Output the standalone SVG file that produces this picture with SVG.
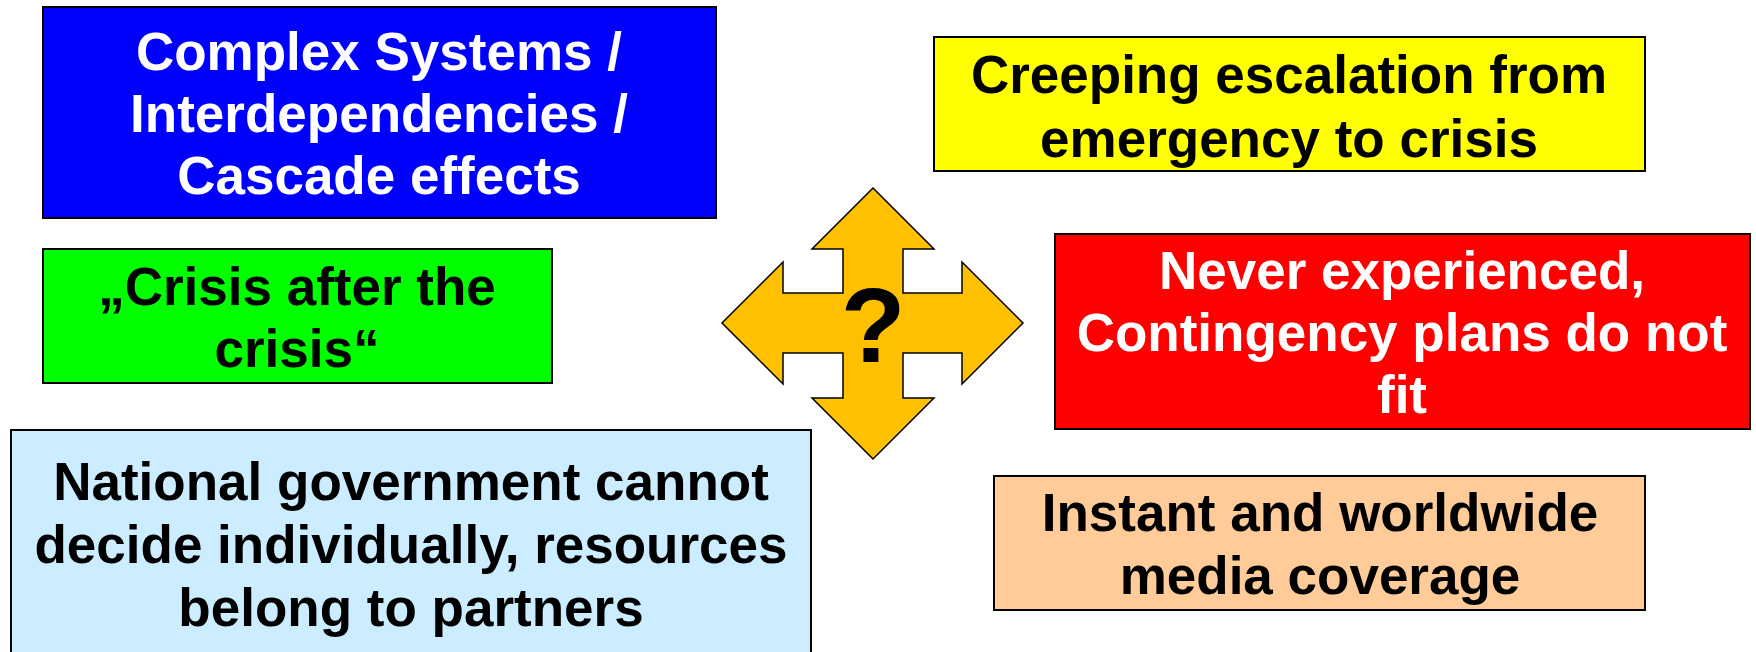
<svg xmlns="http://www.w3.org/2000/svg" width="1756" height="652" viewBox="0 0 1756 652">
<style>
  .box { stroke: #000; stroke-width: 2; }
  .t { font-family: "Liberation Sans", Arial, sans-serif; font-weight: bold; font-size: 53px; text-anchor: middle; }
  .w { fill: #fff; }
  .k { fill: #000; }
</style>
<rect width="1756" height="652" fill="#fff"/>
<g id="node-complex">
  <rect class="box" x="43" y="7" width="673" height="211" fill="#0000FF"/>
  <text class="t w" x="379" y="70">Complex Systems /</text>
  <text class="t w" x="379" y="132">Interdependencies /</text>
  <text class="t w" x="379" y="194">Cascade effects</text>
</g>
<g id="node-creeping">
  <rect class="box" x="934" y="37" width="711" height="134" fill="#FFFF00"/>
  <text class="t k" x="1289" y="93">Creeping escalation from</text>
  <text class="t k" x="1289" y="157">emergency to crisis</text>
</g>
<g id="node-crisis-after">
  <rect class="box" x="43" y="249" width="509" height="134" fill="#00FF00"/>
  <text class="t k" x="297" y="305">„Crisis after the</text>
  <text class="t k" x="297" y="367">crisis“</text>
</g>
<g id="node-never">
  <rect class="box" x="1055" y="234" width="695" height="195" fill="#FF0000"/>
  <text class="t w" x="1402" y="289">Never experienced,</text>
  <text class="t w" x="1402" y="351">Contingency plans do not</text>
  <text class="t w" x="1402" y="413">fit</text>
</g>
<g id="node-national">
  <rect class="box" x="11" y="430" width="800" height="240" fill="#CCECFF"/>
  <text class="t k" x="411" y="500">National government cannot</text>
  <text class="t k" x="411" y="563">decide individually, resources</text>
  <text class="t k" x="411" y="626">belong to partners</text>
</g>
<g id="node-media">
  <rect class="box" x="994" y="476" width="651" height="134" fill="#FFCC99"/>
  <text class="t k" x="1320" y="531">Instant and worldwide</text>
  <text class="t k" x="1320" y="594">media coverage</text>
</g>
<g id="node-arrow">
  <polygon fill="#FFC000" stroke="#000" stroke-width="1.5" stroke-linejoin="miter"
    points="873,188 934,249 903,249 903,293 962,293 962,262 1023,323 962,384 962,353 903,353 903,398 934,398 873,459 812,398 843,398 843,353 783,353 783,384 722,323 783,262 783,293 843,293 843,249 812,249"/>
  <text x="873" y="362" font-family="Liberation Sans, Arial, sans-serif" font-weight="bold" font-size="106" text-anchor="middle" fill="#000">?</text>
</g>
<g id="connectors"></g>
</svg>
